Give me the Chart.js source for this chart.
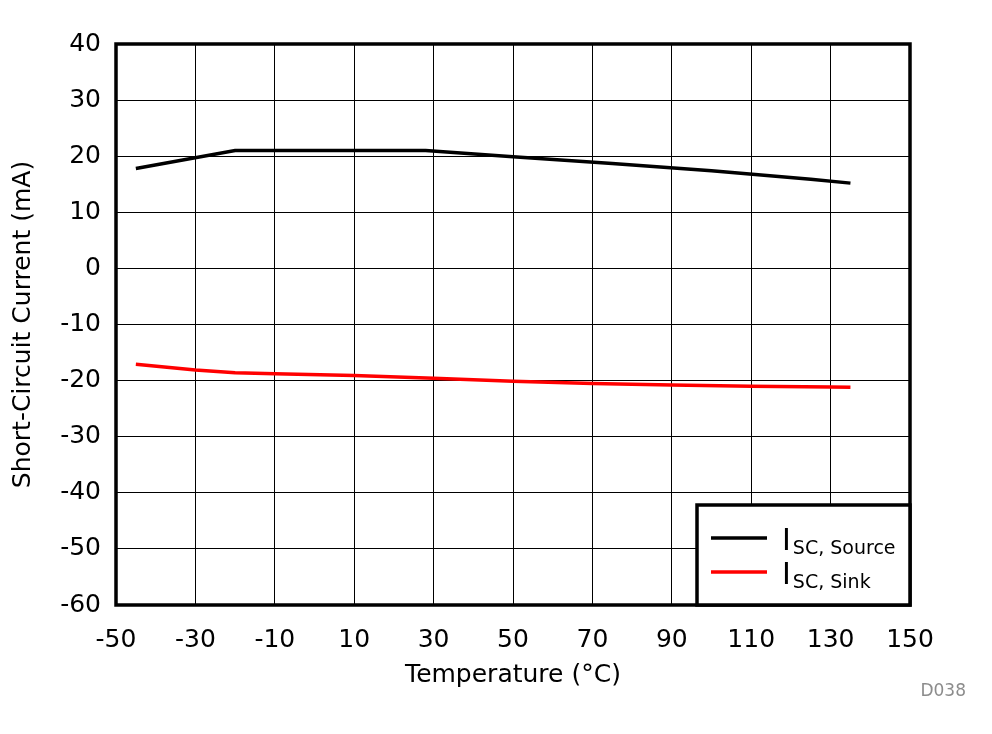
<!DOCTYPE html>
<html><head><meta charset="utf-8">
<script src="https://cdn.jsdelivr.net/npm/chart.js@4"></script>
<style>html,body{margin:0;padding:0;background:#fff}#wrap{width:992px;height:734px;position:relative}</style>
</head><body><div id="wrap"><canvas id="c" width="992" height="734"></canvas></div>
<script>
const sourceTemps = [-45, -20, 0, 28, 50, 75, 100, 125, 135];
const sourceValues = [17.8, 21.0, 21.0, 21.0, 19.9, 18.7, 17.4, 15.9, 15.2];
const sinkTemps = [-45, -30, -20, -10, 10, 30, 50, 70, 90, 110, 130, 135];
const sinkValues = [-17.1, -18.1, -18.6, -18.8, -19.1, -19.6, -20.1, -20.5, -20.8, -21.0, -21.15, -21.2];
const xTickLabels = ['-50','-30','-10','10','30','50','70','90','110','130','150'];
const yTickLabels = ['-60','-50','-40','-30','-20','-10','0','10','20','30','40'];
const seriesNames = [['I', 'SC, Source'], ['I', 'SC, Sink']];
const seriesColors = ['#000000', '#ff0000'];
const xTitle = 'Temperature (\u00B0C)';
const yTitle = 'Short-Circuit Current (mA)';
const footnote = 'D038';

const FONT = "'DejaVu Sans', 'Liberation Sans', Arial, sans-serif";
Chart.defaults.font.family = FONT;
Chart.defaults.color = '#000';

const toPts = (xs, ys) => xs.map((x, i) => ({x: x, y: ys[i]}));

const framePlugin = {
  id: 'frame',
  afterDatasetsDraw(chart) {
    const {ctx, chartArea: a} = chart;
    ctx.save();
    ctx.lineWidth = 3.5;
    ctx.strokeStyle = '#000';
    ctx.strokeRect(a.left, a.top, a.right - a.left, a.bottom - a.top);
    // legend box
    const bw = 213, bh = 100;
    const bx = a.right - bw, by = a.bottom - bh;
    ctx.fillStyle = '#fff';
    ctx.fillRect(bx, by, bw, bh);
    ctx.strokeRect(bx, by, bw, bh);
    const rows = [by + 33, by + 67];
    seriesNames.forEach((nm, i) => {
      const y = rows[i];
      ctx.beginPath();
      ctx.lineWidth = 3.5;
      ctx.strokeStyle = seriesColors[i];
      ctx.moveTo(bx + 14, y);
      ctx.lineTo(bx + 70, y);
      ctx.stroke();
      ctx.fillStyle = '#000';
      ctx.textBaseline = 'alphabetic';
      ctx.textAlign = 'left';
      ctx.font = '30px ' + FONT;
      ctx.fillText(nm[0], bx + 85, y + 12);
      const w = ctx.measureText(nm[0]).width;
      ctx.font = '19px ' + FONT;
      ctx.fillText(nm[1], bx + 85 + w + 2, y + 16);
    });
    // footnote
    ctx.fillStyle = '#8c8c8c';
    ctx.font = '17px ' + FONT;
    ctx.textAlign = 'right';
    ctx.fillText(footnote, 966, 696);
    ctx.restore();
  }
};

new Chart(document.getElementById('c'), {
  type: 'line',
  data: {
    datasets: [
      {label: seriesNames[0].join(''), data: toPts(sourceTemps, sourceValues), borderColor: seriesColors[0], borderWidth: 3.5, pointRadius: 0, tension: 0, fill: false},
      {label: seriesNames[1].join(''), data: toPts(sinkTemps, sinkValues), borderColor: seriesColors[1], borderWidth: 3.5, pointRadius: 0, tension: 0, fill: false}
    ]
  },
  options: {
    responsive: false,
    animation: false,
    devicePixelRatio: 1,
    layout: {padding: {top: 44, right: 82, left: 0, bottom: 0}},
    plugins: {legend: {display: false}, tooltip: {enabled: false}},
    scales: {
      x: {
        type: 'linear', min: -50, max: 150,
        afterBuildTicks(s) { s.ticks = xTickLabels.map(v => ({value: Number(v)})); },
        afterFit(s) { s.height = 129; },
        grid: {color: '#000', lineWidth: 1, drawTicks: false},
        border: {display: false},
        ticks: {font: {size: 25}, padding: 20, maxRotation: 0, autoSkip: false, callback: (v) => String(v)},
        title: {display: true, text: xTitle, font: {size: 25}, padding: {bottom: 44, top: 0}}
      },
      y: {
        type: 'linear', min: -60, max: 40,
        afterBuildTicks(s) { s.ticks = yTickLabels.map(v => ({value: Number(v)})); },
        afterFit(s) { s.width = 116; },
        grid: {color: '#000', lineWidth: 1, drawTicks: false},
        border: {display: false},
        ticks: {font: {size: 25}, padding: 15, autoSkip: false, callback: (v) => String(v)},
        title: {display: true, text: yTitle, font: {size: 25}, padding: {top: 8, bottom: 0}}
      }
    }
  },
  plugins: [framePlugin]
});
</script>
</body></html>
